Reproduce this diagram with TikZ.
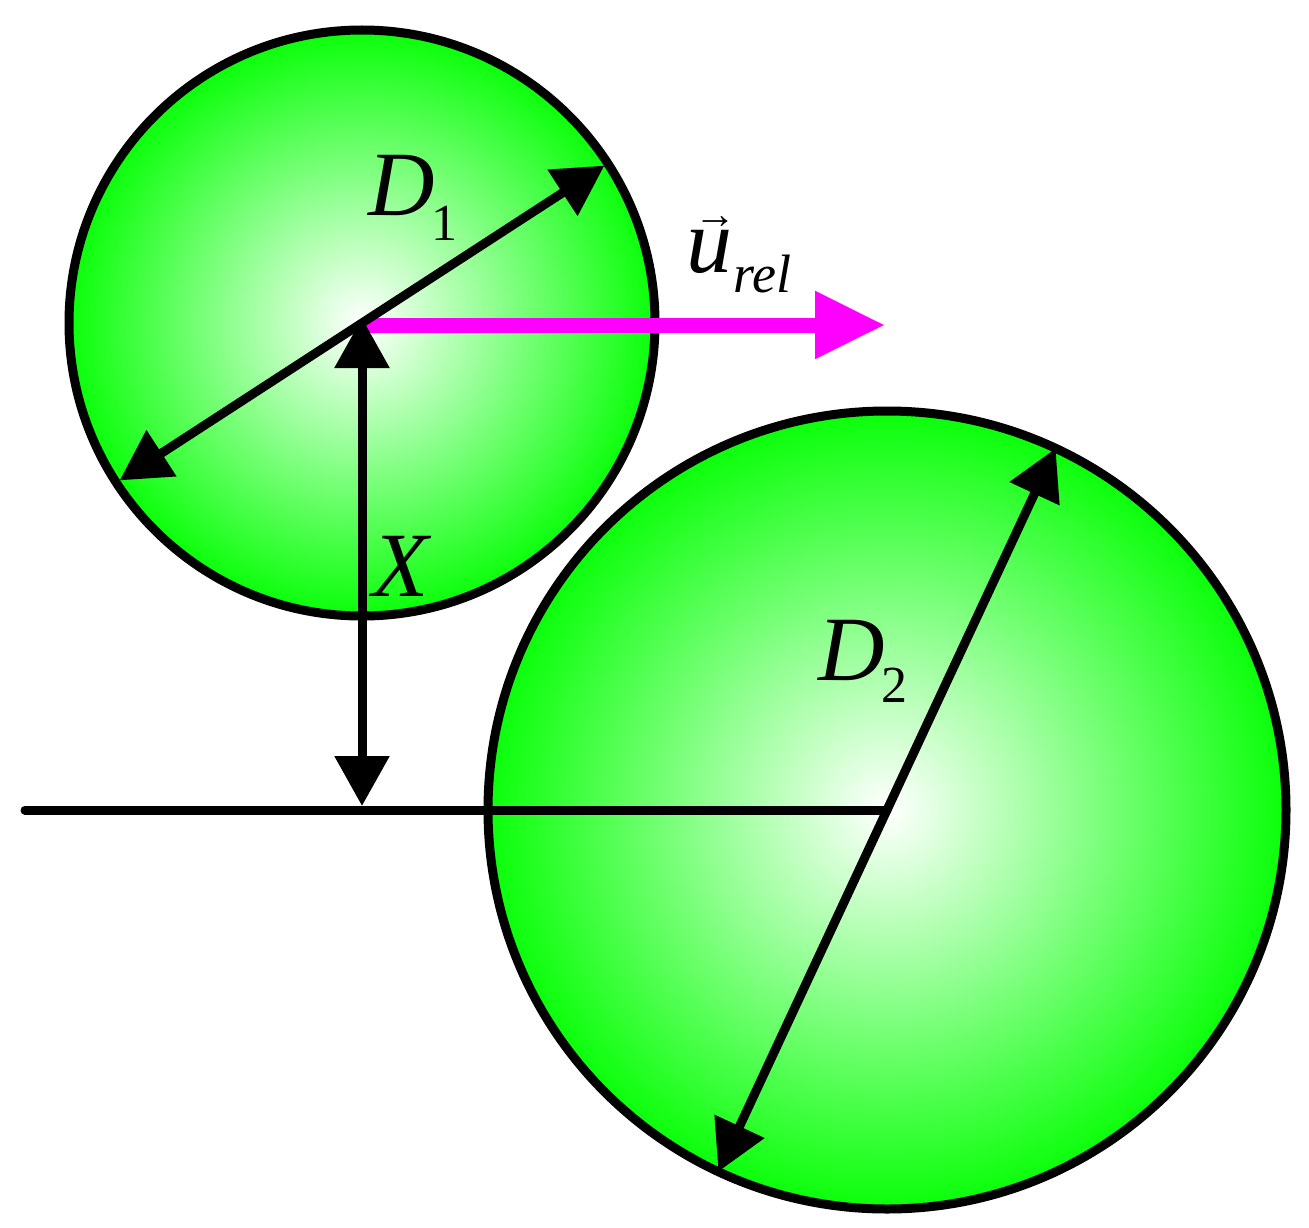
\documentclass[tikz,border=0pt]{standalone}
\usepackage{fontspec}
\setmainfont{Liberation Serif}
\newfontfamily\labfont{Liberation Serif}
\usetikzlibrary{arrows.meta}
\definecolor{ballgreen}{RGB}{10,255,10}
\definecolor{velmag}{RGB}{255,0,255}
\pgfdeclareradialshading{ballshade}{\pgfpoint{0bp}{0bp}}{color(0bp)=(white); color(25bp)=(ballgreen); color(50bp)=(ballgreen)}
\newcommand\bigtxt{\labfont\fontsize{92}{92}\selectfont\itshape}
\newcommand\subtxt{\labfont\fontsize{52}{52}\selectfont\upshape}
\tikzset{
  ball/.style={circle, draw=black, line width=9pt, inner sep=0pt, shading=ballshade},
  dimarrow/.style={line width=9pt, {Triangle[length=50pt,width=53pt]}-{Triangle[length=50pt,width=53pt]}},
  velarrow/.style={line width=15pt, draw=velmag, -{Triangle[length=70pt,width=64pt,fill=velmag]}},
  baseline/.style={line width=9pt, line cap=round},
  lab/.style={inner sep=0pt, anchor=base west}
}
\begin{document}
\begin{tikzpicture}[x=1pt,y=-1pt]
\useasboundingbox (0,0) rectangle (1309,1228);
% big particle
\coordinate (c2) at (887,810);
\node[ball, minimum size=798pt] (ball2) at (c2) {};
\coordinate (lineL) at (25,810);
\draw[baseline] (lineL) -- (c2);
\coordinate (d2a) at (1055.6,448.4);
\coordinate (d2b) at (718.4,1171.6);
\draw[dimarrow] (d2b) -- (d2a);
% small particle
\coordinate (c1) at (362,323);
\node[ball, minimum size=586pt] (ball1) at (c1) {};
\coordinate (vs) at (366,325);
\coordinate (ve) at (885,325);
\draw[velarrow] (vs) -- (ve);
\coordinate (d1a) at (604.4,165.6);
\coordinate (d1b) at (119.6,480.4);
\draw[dimarrow] (d1b) -- (d1a);
\coordinate (xa) at (362,318);
\coordinate (xb) at (362,806);
\draw[dimarrow] (xb) -- (xa);
% labels
\node[lab] (lD1) at (368,215) {\bigtxt D\kern-3pt\raisebox{-25pt}{\subtxt 1}};
\node[lab] (lX) at (372,596) {\bigtxt X};
\node[lab] (lD2) at (818,680) {\bigtxt D\kern-3pt\raisebox{-22pt}{\subtxt 2}};
\node[lab] (lu) at (686,272) {\bigtxt\makebox[0pt][l]{\hspace{8pt}\raisebox{44pt}{\labfont\fontsize{42}{42}\selectfont\upshape →}}u\kern 1pt\raisebox{-20pt}{\labfont\fontsize{54}{54}\selectfont\itshape rel}};
\end{tikzpicture}
\end{document}
